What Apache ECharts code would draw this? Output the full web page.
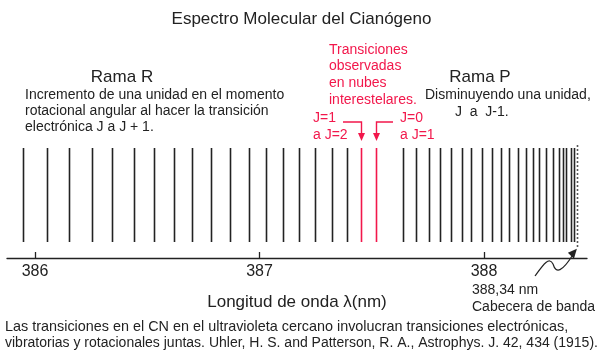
<!DOCTYPE html>
<html><head><meta charset="utf-8">
<script src="https://cdn.jsdelivr.net/npm/echarts@6/dist/echarts.min.js"></script>
<style>html,body{margin:0;padding:0;background:#fff}#c{width:603px;height:357px}</style>
</head><body><div id="c"></div>
<script>
// Wavelengths (nm) of the rotational lines
const rBranch = [385.948, 386.052, 386.150, 386.253, 386.344, 386.441, 386.530, 386.618, 386.699,
  386.784, 386.869, 386.953, 387.029, 387.103, 387.177, 387.247, 387.323, 387.388];
const observedLines = [387.451, 387.518];   // J=1→J=2, J=0→J=1 (red)
const pBranch = [387.638, 387.697, 387.756, 387.804, 387.853, 387.903, 387.943, 387.992, 388.037,
  388.077, 388.113, 388.150, 388.188, 388.217, 388.246, 388.276, 388.306, 388.333, 388.351,
  388.367, 388.389, 388.402];
const bandHead = [388.414];
const tickValues = [386, 387, 388];
const lineHeight = 1;

const FONT = 'Liberation Sans, Arial, Helvetica, sans-serif';
const RED = '#f2174b';
const INK = '#222';

const chart = echarts.init(document.getElementById('c'), null, {renderer: 'canvas'});

function lineSeries(values, color, dash, y0, y1) {
  return {
    type: 'custom',
    coordinateSystem: 'cartesian2d',
    clip: false,
    silent: true,
    data: values.map(v => [v, lineHeight]),
    encode: {x: 0, y: 1},
    renderItem: function (params, api) {
      const x = api.value(0);
      const h = api.value(1);
      const p0 = api.coord([x, y0 * h]);
      const p1 = api.coord([x, y1 * h]);
      return {
        type: 'line',
        shape: {x1: Math.round(p0[0]) + 0.5, y1: p0[1], x2: Math.round(p1[0]) + 0.5, y2: p1[1]},
        style: {stroke: color, lineWidth: 1.6, lineDash: dash || null}
      };
    }
  };
}

chart.setOption({
  animation: false,
  backgroundColor: '#fff',
  title: {
    text: 'Espectro Molecular del Cianógeno',
    left: 'center', top: 6,
    textStyle: {fontFamily: FONT, fontSize: 17, fontWeight: 'normal', color: INK}
  },
  grid: {left: 7, right: 16, top: 148, bottom: 99},
  xAxis: {
    type: 'value', min: 385.875, max: 388.459,
    name: 'Longitud de onda λ(nm)', nameLocation: 'middle', nameGap: 36,
    nameTextStyle: {fontFamily: FONT, fontSize: 17, color: INK},
    axisLine: {show: true, onZero: false, lineStyle: {color: INK, width: 1.3}},
    axisTick: {show: true, inside: true, length: 6, customValues: tickValues, lineStyle: {color: INK, width: 1.3}},
    axisLabel: {customValues: tickValues, fontFamily: FONT, fontSize: 16, color: INK, margin: 6},
    splitLine: {show: false}
  },
  yAxis: {type: 'value', min: -0.17, max: 1, show: false},
  series: [
    lineSeries(rBranch, INK, null, 0, 1),
    lineSeries(observedLines, RED, null, 0, 1),
    lineSeries(pBranch, INK, null, 0, 1),
    lineSeries(bandHead, INK, [1.5, 2.5], -0.05, 1.055)
  ]
});

// Annotations
const txt = (x, y, s, size, color, align) => ({
  type: 'text', x: x, y: y, silent: true,
  style: {text: s, font: size + 'px ' + FONT, fill: color || INK, align: align || 'left', verticalAlign: 'middle'}
});

const g = [];
g.push(txt(122, 77, 'Rama R', 17, INK, 'center'));
g.push(txt(25, 95, 'Incremento de una unidad en el momento', 14));
g.push(txt(25, 111, 'rotacional angular al hacer la transición', 14));
g.push(txt(25, 127, 'electrónica J a J + 1.', 14));
g.push(txt(480, 77, 'Rama P', 17, INK, 'center'));
g.push(txt(425, 95, 'Disminuyendo una unidad,', 14));
g.push(txt(455, 112, 'J  a  J-1.', 14));
['Transiciones', 'observadas', 'en nubes', 'interestelares.'].forEach((s, i) => g.push(txt(329, 50 + i * 16.6, s, 14, RED)));
g.push(txt(313, 118, 'J=1', 14, RED));
g.push(txt(313, 135, 'a J=2', 14, RED));
g.push(txt(400, 118, 'J=0', 14, RED));
g.push(txt(400, 135, 'a J=1', 14, RED));
g.push(txt(472, 290, '388,34 nm', 14));
g.push(txt(472, 307, 'Cabecera de banda', 14));
g.push(txt(5, 327, 'Las transiciones en el CN en el ultravioleta cercano involucran transiciones electrónicas,', 14.4));
g.push(txt(5, 343, 'vibratorias y rotacionales juntas. Uhler, H. S. and Patterson, R. A., Astrophys. J. 42, 434 (1915).', 14));

// red bent arrows pointing at the observed lines
const ox1 = Math.round(chart.convertToPixel({gridIndex: 0}, [observedLines[0], 0])[0]) + 0.5;
const ox2 = Math.round(chart.convertToPixel({gridIndex: 0}, [observedLines[1], 0])[0]) + 0.5;
const ay = 122, tipY = 141;
g.push({type: 'polyline', silent: true, shape: {points: [[343, ay], [ox1, ay], [ox1, tipY - 6]]}, style: {stroke: RED, lineWidth: 1.4, fill: null}});
g.push({type: 'polygon', silent: true, shape: {points: [[ox1 - 3.5, tipY - 8], [ox1 + 3.5, tipY - 8], [ox1, tipY]]}, style: {fill: RED}});
g.push({type: 'polyline', silent: true, shape: {points: [[393, ay], [ox2, ay], [ox2, tipY - 6]]}, style: {stroke: RED, lineWidth: 1.4, fill: null}});
g.push({type: 'polygon', silent: true, shape: {points: [[ox2 - 3.5, tipY - 8], [ox2 + 3.5, tipY - 8], [ox2, tipY]]}, style: {fill: RED}});

// squiggly arrow to the band head
const hp = chart.convertToPixel({gridIndex: 0}, [bandHead[0], -0.05]);
const tx = hp[0], ty = hp[1] + 2;
g.push({type: 'bezierCurve', silent: true, shape: {x1: 535, y1: 276, x2: 553, y2: 264, cpx1: 543, cpy1: 265, cpx2: 549, cpy2: 256}, style: {stroke: INK, lineWidth: 1.2, fill: null}});
g.push({type: 'bezierCurve', silent: true, shape: {x1: 553, y1: 264, x2: tx - 4, y2: ty + 6, cpx1: 556, cpy1: 274, cpx2: 562, cpy2: 272}, style: {stroke: INK, lineWidth: 1.2, fill: null}});
g.push({type: 'polygon', silent: true, shape: {points: [[tx, ty], [tx - 9, ty + 4], [tx - 3, ty + 10]]}, style: {fill: INK}});

chart.setOption({graphic: g});
</script></body></html>
